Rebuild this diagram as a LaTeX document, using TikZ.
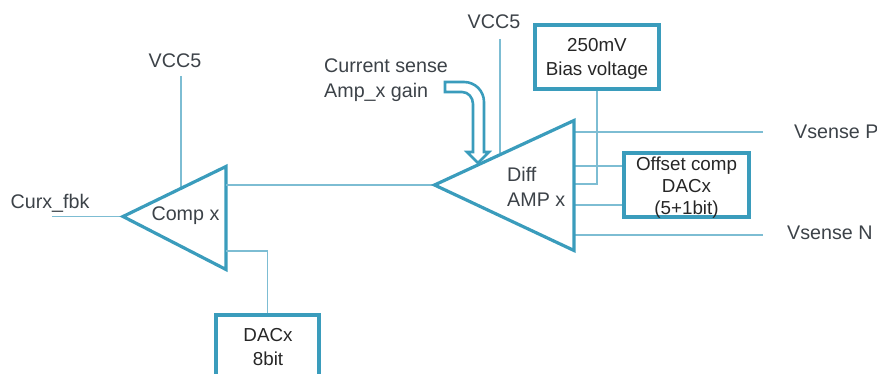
\documentclass[tikz,border=0pt]{standalone}
\usepackage{fontspec}
\setmainfont{Liberation Sans}
\usepackage{xcolor}
\usetikzlibrary{calc, positioning}
\definecolor{bluethick}{HTML}{3A9CBC}
\definecolor{bluethin}{HTML}{7DBDD3}
\definecolor{lbltext}{HTML}{3C4248}
\begin{document}
\begin{tikzpicture}[
  x=1pt, y=-1pt,
  ampshape/.style = {draw=bluethick, line width=3.2pt, line join=miter},
  boxnode/.style  = {draw=bluethick, line width=3.1pt, inner sep=0pt},
  boxlbl/.style   = {text=black!85, inner sep=0pt, align=center,
                     font=\fontsize{18.8}{23.5}\selectfont},
  wire/.style     = {draw=bluethin, line width=1.3pt},
  lbl/.style      = {text=lbltext, inner sep=0pt, align=left,
                     font=\fontsize{19.7}{24.8}\selectfont},
]
\useasboundingbox (0,0) rectangle (877,374);
\clip (0,0) rectangle (877,374);

%% -- Comparator ------------------------------------------------------
\coordinate (comptip) at (123,216.5);
\coordinate (comptop) at (226,166.5);
\coordinate (compbot) at (226,269.5);
\coordinate (compvcc) at (181,187);
\coordinate (compdac) at (226,251);
\coordinate (compout) at (226,185);
\coordinate (curxend) at (52,216.5);
\coordinate (vccAend) at (181,76);
\draw[wire] (curxend) -- (comptip);
\draw[wire] (vccAend) -- (compvcc);
\draw[ampshape] (comptip) -- (comptop) -- (compbot) -- cycle;
\node[lbl] (curxlbl) at (50,203) {Curx\_fbk};
\node[lbl] (vccAlbl) at (175,61) {VCC5};
\node[lbl] (complbl) at (185.5,216) {Comp x};

%% -- DAC 8 bit -------------------------------------------------------
\node[boxnode, minimum width=103pt, minimum height=80pt] (dac8) at (267.5,355) {};
\node[boxlbl] (dac8lbl) at (268,347) {DACx\\8bit};
\draw[wire] (compdac) -| (dac8.north);

%% -- Diff amplifier --------------------------------------------------
\coordinate (amptip) at (434.5,185);
\coordinate (amptop) at (574,120.5);
\coordinate (ampbot) at (574,250.5);
\coordinate (ampvcc) at (500,153);
\coordinate (vccBend) at (500,39);
\coordinate (ampbias) at (574,184);
\coordinate (ampoffA) at (574,166);
\coordinate (ampoffB) at (574,205);
\coordinate (amppos) at (574,132);
\coordinate (ampneg) at (574,235);
\coordinate (posend) at (763,132);
\coordinate (negend) at (763,235);
\draw[wire] (compout) -- (amptip);
\draw[wire] (vccBend) -- (ampvcc);
\draw[wire] (amppos) -- (posend);
\draw[wire] (ampneg) -- (negend);
\node[lbl] (vccBlbl) at (494,22) {VCC5};
\node[lbl, anchor=west] (vplbl) at (794,132) {Vsense P};
\node[lbl, anchor=west] (vnlbl) at (787,233) {Vsense N};
\node[lbl, anchor=west] (difflbl) at (507,187) {Diff\\AMP x};

%% -- Bias and offset -------------------------------------------------
\node[boxnode, minimum width=124pt, minimum height=64pt] (bias) at (597,57) {};
\node[boxlbl] (biaslbl) at (597,59) {250mV\\Bias voltage};
\node[boxnode, minimum width=125pt, minimum height=64pt] (offs) at (686.5,185) {};
\node[boxlbl, font=\fontsize{18.8}{22}\selectfont] (offslbl) at (686.5,187.5)
  {Offset comp\\DACx\\(5+1bit)};
\coordinate (biasjoin) at (597,184);
\draw[wire] (bias.south) -- (biasjoin) -- (ampbias);
\draw[wire] (ampoffA) -- (offs.west |- ampoffA);
\draw[wire] (ampoffB) -- (offs.west |- ampoffB);
\draw[ampshape] (amptip) -- (amptop) -- (ampbot) -- cycle;

%% -- Gain input ------------------------------------------------------
\node[lbl, anchor=west] (gainlbl) at (324,80.5) {Current sense\\Amp\_x gain};
\draw[draw=bluethick, line width=2.6pt, fill=white, line join=miter]
  (445,82) -- (464,82) to[out=0, in=90] (484,102) -- (484,152) -- (489,152)
  -- (478,163) -- (467,152) -- (473,152) -- (473,104) to[out=90, in=0] (462,92)
  -- (445,92) -- cycle;

\end{tikzpicture}
\end{document}
